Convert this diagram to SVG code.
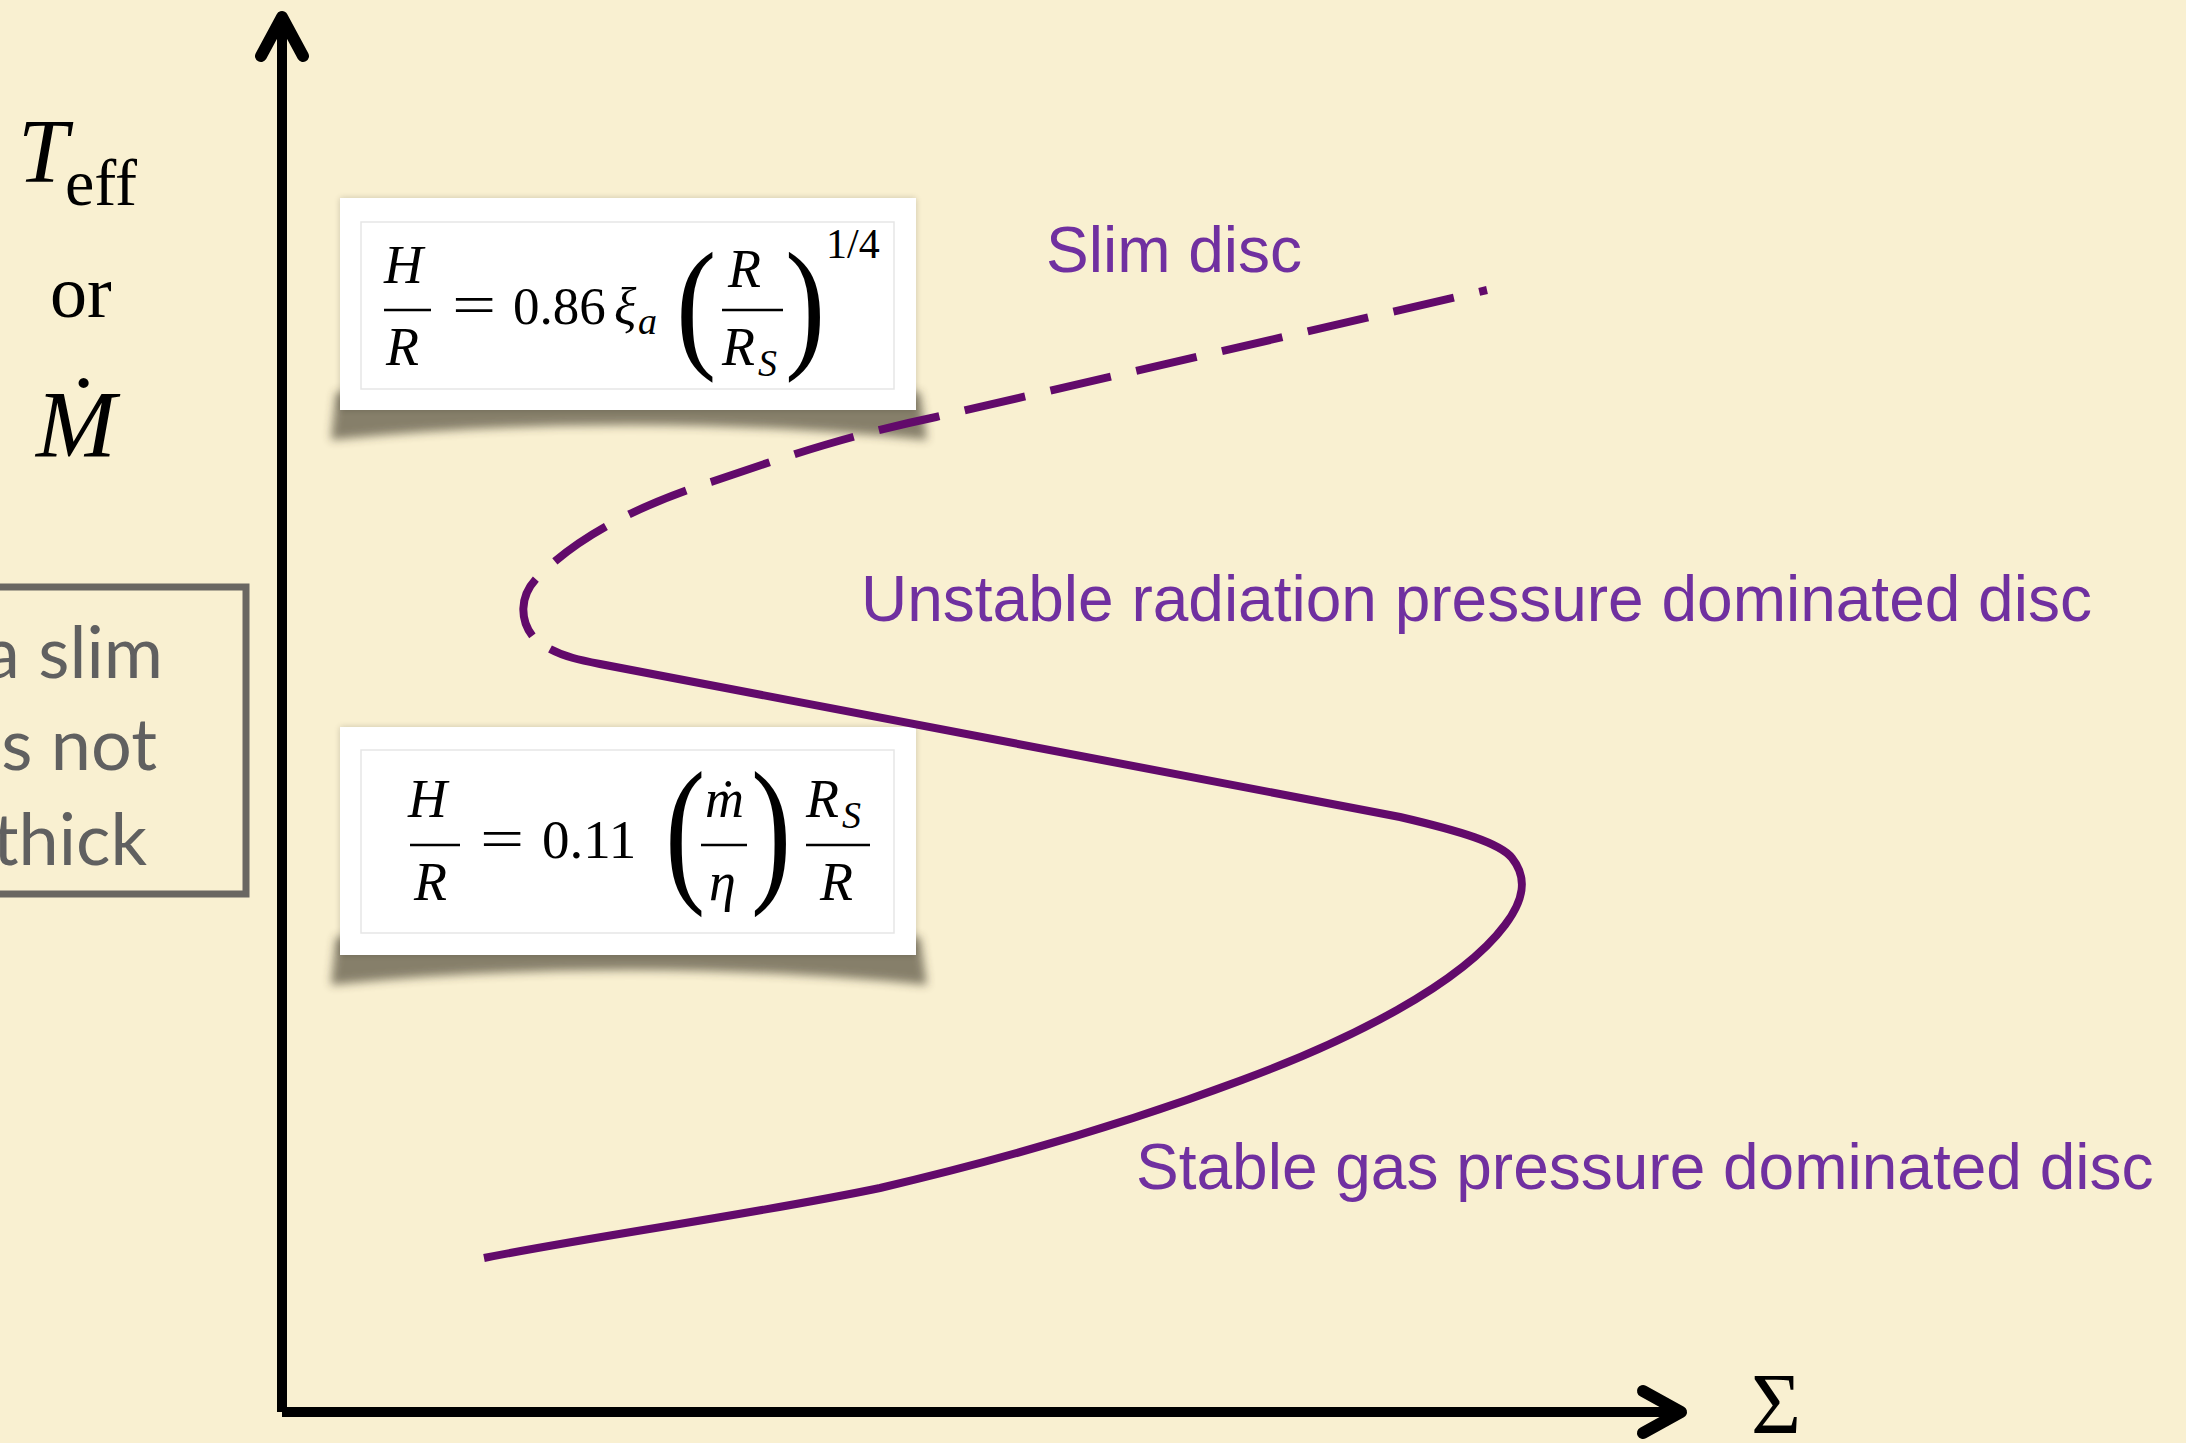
<svg xmlns="http://www.w3.org/2000/svg" width="2186" height="1443" viewBox="0 0 2186 1443">
<defs>
<style>
.serif{font-family:"Liberation Serif","DejaVu Serif",serif;fill:#000}
.it{font-style:italic}
.lbl{font-family:"Liberation Sans",Arial,sans-serif;font-size:64px;fill:#7030A0}
.note{font-family:Lato,"Open Sans",sans-serif;font-size:72px;fill:#606060}
.axis{stroke:#000;stroke-width:10;fill:none}
.head{stroke:#000;stroke-width:12;fill:none;stroke-linecap:round;stroke-linejoin:round}
.curve{stroke:#620A6B;stroke-width:8;fill:none}
.bar{stroke:#000;stroke-width:2.5}
.card{fill:#fff}
.inner{fill:#fff;stroke:#e6e6e6;stroke-width:1.5}
.paren{font-size:110px}
</style>
<filter id="blur5" x="-10%" y="-50%" width="120%" height="200%"><feGaussianBlur stdDeviation="5"/></filter>
<filter id="blur3" x="-10%" y="-20%" width="120%" height="140%"><feGaussianBlur stdDeviation="3"/></filter>
</defs>
<rect x="0" y="0" width="2186" height="1443" fill="#F9F0D1"/>

<g id="y-label">
<text class="serif it" x="18" y="182" font-size="90">T</text>
<text class="serif" x="65" y="205" font-size="66">eff</text>
<text class="serif" x="50" y="317" font-size="74">or</text>
<text class="serif it" x="36" y="457" font-size="96">Ṁ</text>
</g>

<g id="note-box">
<rect x="-20" y="587" width="266" height="307" fill="none" stroke="#6a6762" stroke-width="7"/>
<text class="note" x="163" y="678" text-anchor="end">a slim</text>
<text class="note" x="157" y="770" text-anchor="end">s not</text>
<text class="note" x="147" y="865" text-anchor="end">thick</text>
</g>

<g id="formula-slim">
<path d="M336,392 L920,392 L927,440 Q628,410 331,440 Z" fill="#3a3426" opacity="0.6" filter="url(#blur5)"/>
<rect x="340" y="198" width="576" height="212" fill="#000" opacity="0.18" filter="url(#blur3)"/>
<rect class="card" x="340" y="198" width="576" height="212"/>
<rect class="inner" x="361" y="222" width="533" height="167"/>
<text class="serif it" x="384" y="283" font-size="54">H</text>
<line class="bar" x1="384" y1="310" x2="431" y2="310"/>
<text class="serif it" x="386" y="365" font-size="54">R</text>
<text class="serif" font-size="56" transform="translate(452,324) scale(1.4,1)">=</text>
<text class="serif" x="513" y="324" font-size="53">0.86</text>
<text class="serif it" x="614" y="324" font-size="52">ξ</text>
<text class="serif it" x="638" y="334" font-size="38">a</text>
<text class="serif paren" transform="translate(676,352) scale(1.1,1.31)">(</text>
<text class="serif it" x="728" y="287" font-size="54">R</text>
<line class="bar" x1="722" y1="310" x2="783" y2="310"/>
<text class="serif it" x="722" y="365" font-size="54">R</text>
<text class="serif it" x="758" y="376" font-size="38">S</text>
<text class="serif paren" transform="translate(785,352) scale(1.1,1.31)">)</text>
<text class="serif" x="826" y="258" font-size="42">1/4</text>
</g>

<g id="formula-gas">
<path d="M336,937 L920,937 L927,985 Q628,955 331,985 Z" fill="#3a3426" opacity="0.6" filter="url(#blur5)"/>
<rect x="340" y="727" width="576" height="228" fill="#000" opacity="0.18" filter="url(#blur3)"/>
<rect class="card" x="340" y="727" width="576" height="228"/>
<rect class="inner" x="361" y="750" width="533" height="183"/>
<text class="serif it" x="408" y="817" font-size="54">H</text>
<line class="bar" x1="410" y1="845" x2="460" y2="845"/>
<text class="serif it" x="414" y="900" font-size="54">R</text>
<text class="serif" font-size="56" transform="translate(480,858) scale(1.4,1)">=</text>
<text class="serif" x="542" y="858" font-size="55">0.11</text>
<text class="serif paren" transform="translate(665,883) scale(1.1,1.46)">(</text>
<text class="serif it" x="705" y="817" font-size="54">ṁ</text>
<line class="bar" x1="701" y1="845" x2="747" y2="845"/>
<text class="serif it" x="709" y="900" font-size="54">η</text>
<text class="serif paren" transform="translate(751,883) scale(1.1,1.46)">)</text>
<text class="serif it" x="806" y="817" font-size="54">R</text>
<text class="serif it" x="842" y="828" font-size="38">S</text>
<line class="bar" x1="806" y1="845" x2="870" y2="845"/>
<text class="serif it" x="820" y="900" font-size="54">R</text>
</g>

<g id="labels">
<text class="lbl" x="1046" y="272">Slim disc</text>
<text class="lbl" x="861" y="621">Unstable radiation pressure dominated disc</text>
<text class="lbl" x="1136" y="1189">Stable gas pressure dominated disc</text>
</g>

<g id="s-curve">
<path class="curve" stroke-dasharray="62 26" stroke-dashoffset="54" d="M1487,290 L936,417 C850,435 790,455 711,482 C640,505 580,535 540,575 C512,600 522,637 550,650"/>
<path class="curve" d="M550,649 C565,657 580,660 600,664 L1400,817 C1460,831 1500,843 1512,858 C1528,878 1524,900 1505,925 C1460,985 1350,1040 1242,1080 C1130,1122 1000,1160 880,1188 C750,1215 600,1235 484,1258"/>
</g>

<g id="axes">
<line class="axis" x1="282" y1="22" x2="282" y2="1412"/>
<line class="axis" x1="282" y1="1412" x2="1680" y2="1412"/>
<path class="head" d="M261,56 L282,17 L303,56"/>
<path class="head" d="M1643,1391 L1681,1412 L1643,1433"/>
<text class="serif" x="1751" y="1433" font-size="86">Σ</text>
</g>
</svg>
